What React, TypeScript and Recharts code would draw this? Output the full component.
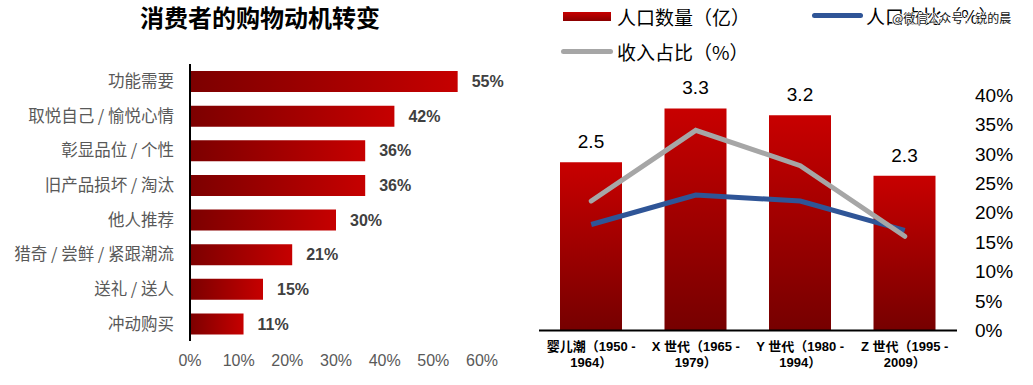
import React from "react";
import {
  BarChart,
  Bar,
  XAxis,
  YAxis,
  LabelList,
  ComposedChart,
  Line,
} from "recharts";

// left chart: shopping motives
const motives = [
  "功能需要",
  "取悦自己 / 愉悦心情",
  "彰显品位 / 个性",
  "旧产品损坏 / 淘汰",
  "他人推荐",
  "猎奇 / 尝鲜 / 紧跟潮流",
  "送礼 / 送人",
  "冲动购买",
];
const motiveShares = [55, 42, 36, 36, 30, 21, 15, 11];
const motiveTicks = [0, 10, 20, 30, 40, 50, 60];

// right chart: generations
const generations = [
  "婴儿潮（1950 - 1964）",
  "X 世代（1965 - 1979）",
  "Y 世代（1980 - 1994）",
  "Z 世代（1995 - 2009）",
];
const population = [2.5, 3.3, 3.2, 2.3];
const populationShare = [18, 23, 22, 17];
const incomeShare = [22, 34, 28, 16];
const pctTicks = [0, 5, 10, 15, 20, 25, 30, 35, 40];

const SERIES_POP = "人口数量（亿）";
const SERIES_POP_SHARE = "人口占比（%）";
const SERIES_INCOME = "收入占比（%）";

const CJK = '"Noto Sans CJK SC", sans-serif';
const LATIN = '"Liberation Sans", Arial, "Noto Sans CJK SC", sans-serif';

const motiveData = motives.map((name, i) => ({ name, share: motiveShares[i] }));
const genData = generations.map((name, i) => ({
  name,
  population: population[i],
  popShare: populationShare[i],
  income: incomeShare[i],
}));

const GenTick = (props: any) => {
  const { x, y, payload } = props;
  const text: string = payload.value;
  const cut = text.indexOf("- ") + 1;
  return (
    <text
      x={x}
      y={y}
      textAnchor="middle"
      fontSize={13}
      fontWeight="bold"
      fill="#000"
      fontFamily={LATIN}
    >
      <tspan x={x} dy={20}>
        {text.slice(0, cut)}
      </tspan>
      <tspan x={x} dy={16.7}>
        {text.slice(cut + 1)}
      </tspan>
    </text>
  );
};

export default function App() {
  return (
    <div
      style={{
        position: "absolute",
        left: 0,
        top: 0,
        width: 1033,
        height: 385,
        background: "#fff",
        overflow: "hidden",
      }}
    >
      <div
        style={{
          position: "absolute",
          left: 0,
          top: 2,
          width: 520,
          textAlign: "center",
          fontFamily: CJK,
          fontWeight: "bold",
          fontSize: 24,
          lineHeight: "30px",
          color: "#000",
        }}
      >
        消费者的购物动机转变
      </div>

      <div style={{ position: "absolute", left: 0, top: 0 }}>
        <BarChart
          width={520}
          height={385}
          data={motiveData}
          layout="vertical"
          margin={{ top: 64, right: 38, bottom: 14, left: 0 }}
        >
          <defs>
            <linearGradient id="motiveGrad" x1="0" y1="0" x2="1" y2="0">
              <stop offset="0%" stopColor="#7c0000" />
              <stop offset="100%" stopColor="#c60000" />
            </linearGradient>
          </defs>
          <XAxis
            type="number"
            domain={[0, 60]}
            ticks={motiveTicks}
            tickFormatter={(v: number) => `${v}%`}
            axisLine={false}
            tickLine={false}
            tickSize={0}
            tickMargin={14}
            height={30}
            tick={{ fill: "#595959", fontSize: 16, fontFamily: LATIN }}
          />
          <YAxis
            type="category"
            dataKey="name"
            width={190}
            interval={0}
            axisLine={{ stroke: "#000", strokeWidth: 2 }}
            tickLine={false}
            tickSize={0}
            tickMargin={16}
            tick={{ fill: "#595959", fontSize: 16.5, fontFamily: CJK }}
          />
          <Bar
            dataKey="share"
            barSize={21}
            fill="url(#motiveGrad)"
            isAnimationActive={false}
          >
            <LabelList
              dataKey="share"
              position="right"
              offset={14}
              formatter={(v: any) => `${v}%`}
              style={{
                fill: "#404040",
                fontSize: 16,
                fontWeight: "bold",
                fontFamily: LATIN,
              }}
            />
          </Bar>
        </BarChart>
      </div>

      <div style={{ position: "absolute", left: 520, top: 0 }}>
        <ComposedChart
          width={513}
          height={385}
          data={genData}
          margin={{ top: 95, right: 0, bottom: 0, left: 19 }}
        >
          <defs>
            <linearGradient id="popGrad" x1="0" y1="0" x2="0" y2="1">
              <stop offset="0%" stopColor="#c80000" />
              <stop offset="100%" stopColor="#760000" />
            </linearGradient>
          </defs>
          <XAxis
            dataKey="name"
            height={54.5}
            interval={0}
            axisLine={{ stroke: "#000", strokeWidth: 2 }}
            tickLine={false}
            tickSize={0}
            tickMargin={0}
            tick={<GenTick />}
          />
          <YAxis yAxisId="left" hide domain={[0, 3.5]} />
          <YAxis
            yAxisId="right"
            orientation="right"
            width={76}
            domain={[0, 40]}
            ticks={pctTicks}
            tickFormatter={(v: number) => `${v}%`}
            axisLine={false}
            tickLine={false}
            tickSize={0}
            tickMargin={18}
            tick={{ fill: "#000", fontSize: 19, fontFamily: LATIN, textAnchor: "start" }}
          />
          <Bar
            yAxisId="left"
            dataKey="population"
            name={SERIES_POP}
            barSize={62}
            fill="url(#popGrad)"
            isAnimationActive={false}
          >
            <LabelList
              dataKey="population"
              position="top"
              offset={14}
              style={{ fill: "#000", fontSize: 19, fontFamily: LATIN }}
            />
          </Bar>
          <Line
            yAxisId="right"
            dataKey="popShare"
            name={SERIES_POP_SHARE}
            stroke="#2f5597"
            strokeWidth={5}
            dot={false}
            isAnimationActive={false}
          />
          <Line
            yAxisId="right"
            dataKey="income"
            name={SERIES_INCOME}
            stroke="#a6a6a6"
            strokeWidth={5}
            strokeLinecap="round"
            dot={false}
            isAnimationActive={false}
          />
        </ComposedChart>
      </div>

      {/* legend */}
      <div style={{ fontFamily: CJK, fontSize: 19, color: "#000" }}>
        <div style={{ position: "absolute", left: 563, top: 3, height: 26, display: "flex", alignItems: "center" }}>
          <div style={{ width: 48, height: 9, background: "linear-gradient(#c80000, #8a0000)" }} />
          <span style={{ marginLeft: 6 }}>{SERIES_POP}</span>
        </div>
        <div style={{ position: "absolute", left: 812, top: 2, height: 26, display: "flex", alignItems: "center" }}>
          <div style={{ width: 51, height: 5, borderRadius: 3, background: "#2f5597" }} />
          <span style={{ marginLeft: 3 }}>{SERIES_POP_SHARE}</span>
        </div>
        <div style={{ position: "absolute", left: 561, top: 38, height: 26, display: "flex", alignItems: "center" }}>
          <div style={{ width: 52, height: 5, borderRadius: 3, background: "#a6a6a6" }} />
          <span style={{ marginLeft: 4 }}>{SERIES_INCOME}</span>
        </div>
      </div>

      <div
        style={{
          position: "absolute",
          left: 892,
          top: 11,
          fontFamily: CJK,
          fontSize: 12,
          lineHeight: "14px",
          color: "#111",
          textShadow:
            "1px 0 0 #fff, -1px 0 0 #fff, 0 1px 0 #fff, 0 -1px 0 #fff",
        }}
      >
        @微信公众号：锐的晨
      </div>
    </div>
  );
}
